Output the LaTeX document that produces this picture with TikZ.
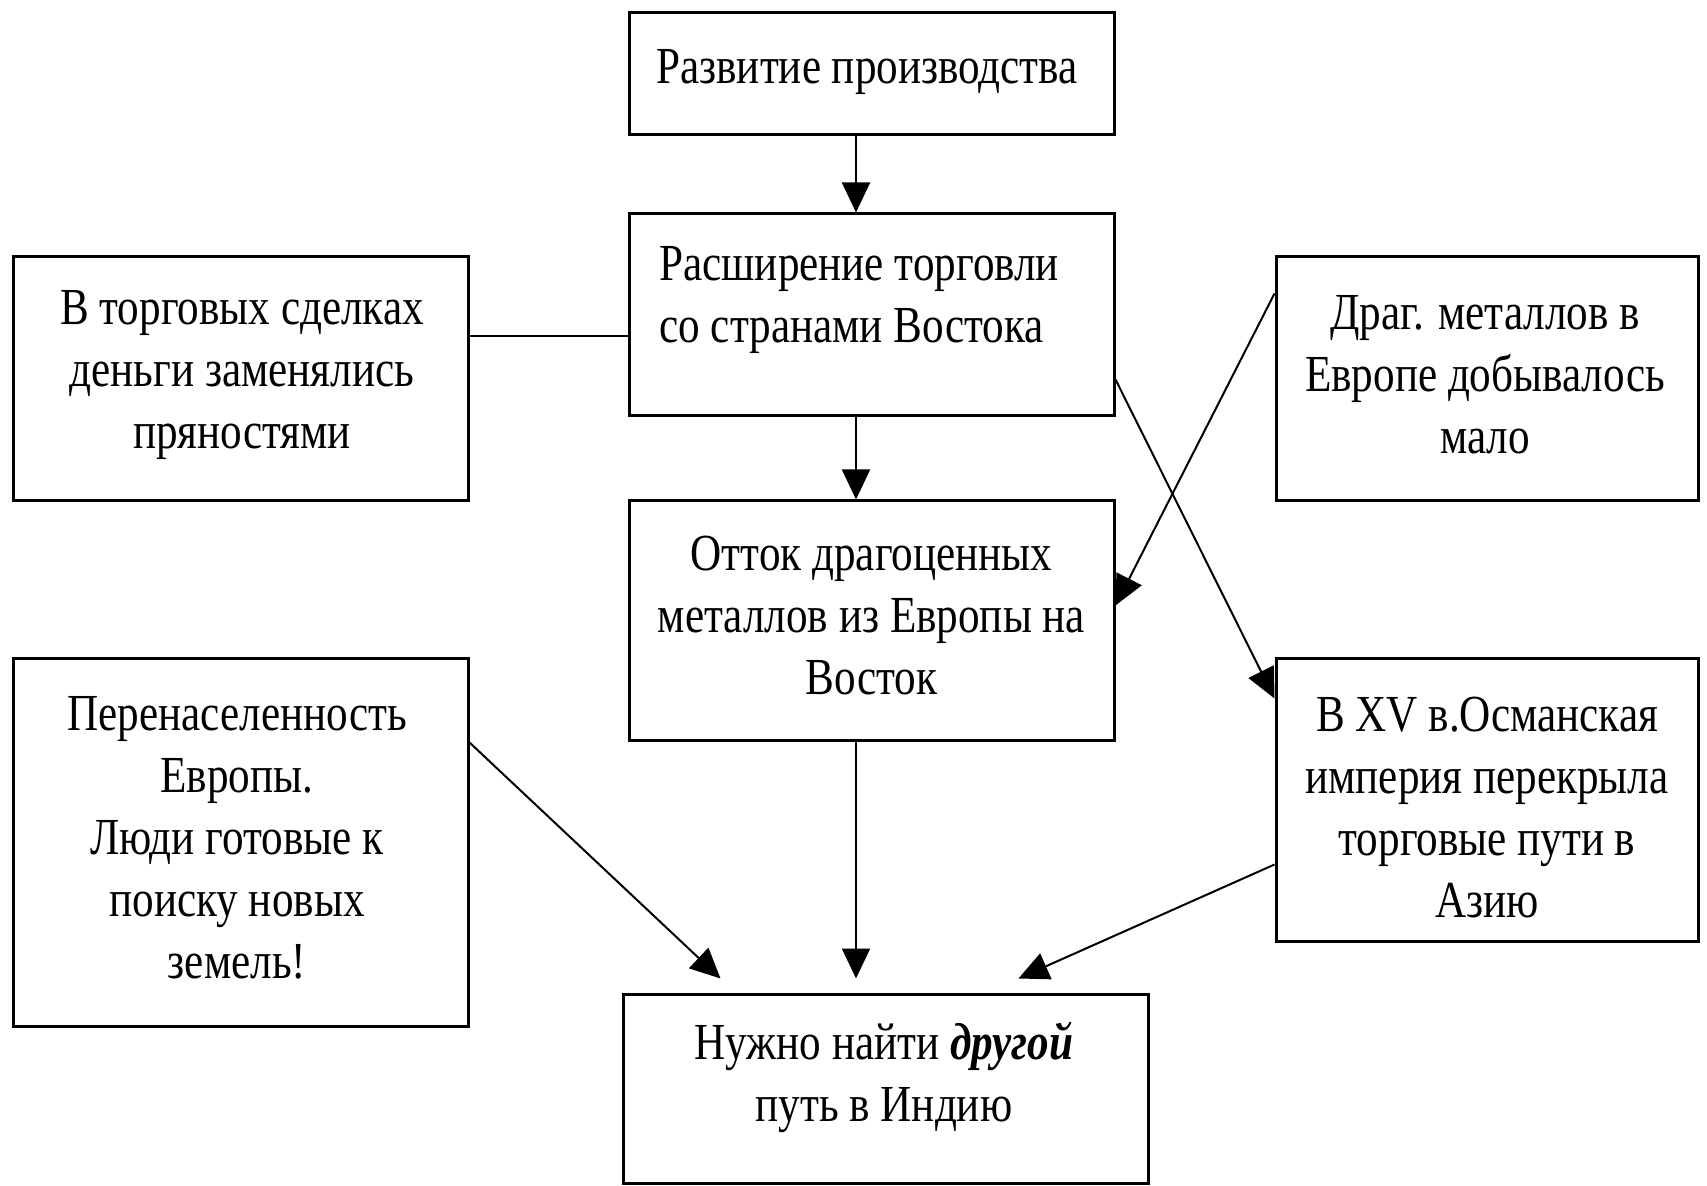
\documentclass[tikz,border=0pt]{standalone}
\usepackage{fontspec}
\setmainfont{Liberation Serif}[FakeStretch=0.83]
\usetikzlibrary{arrows.meta,calc}
\begin{document}
\begin{tikzpicture}[x=0.5pt,y=-0.5pt,
  box/.style={draw,line width=1.5pt,inner sep=0pt},
  txt/.style={font=\fontsize{26}{31}\selectfont,align=center,inner sep=0pt},
  conn/.style={line width=1pt},
  arr/.style={conn,-{Triangle[length=15pt,width=14pt]}}]
\useasboundingbox[fill=white] (0,0) rectangle (1707,1186);
% boxes
\node[box,minimum width=242.5pt,minimum height=61pt]  (b1) at (871.5,74) {};
\node[box,minimum width=242.5pt,minimum height=101pt] (b2) at (871.5,315) {};
\node[box,minimum width=242.5pt,minimum height=119.5pt] (b3) at (871.5,620.5) {};
\node[box,minimum width=227.5pt,minimum height=122pt] (L1) at (240.5,379) {};
\node[box,minimum width=211pt,minimum height=122pt]   (R1) at (1487,379) {};
\node[box,minimum width=227.5pt,minimum height=183.5pt] (L2) at (240.5,842.5) {};
\node[box,minimum width=211pt,minimum height=141pt]   (R2) at (1487,800) {};
\node[box,minimum width=262.5pt,minimum height=94.5pt] (B) at (885.5,1088.5) {};
% texts
\node[txt,anchor=west] (t1) at (656,72) {Развитие производства};
\node[txt,anchor=west,align=left] (t2) at (659,300) {Расширение торговли\\со странами Востока};
\node[txt] (t3) at (871.5,616) {Отток драгоценных\\металлов из Европы на\\Восток};
\node[txt] (tL1) at (242,375) {В торговых сделках\\деньги заменялись\\пряностями};
\node[txt] (tR1) at (1485,375) {Драг. металлов в\\Европе добывалось\\мало};
\node[txt] (tL2) at (237,838) {Перенаселенность\\Европы.\\Люди готовые к\\поиску новых\\земель!};
\node[txt] (tR2) at (1487,808) {В XV в.Османская\\империя перекрыла\\торговые пути в\\Азию};
\node[txt] (tB) at (884,1077) {Нужно найти \textbf{\textit{другой}}\\путь в Индию};
% connectors
\coordinate (ax) at (856,0);
\coordinate (hy) at (0,336);
\coordinate (endL) at ($(B.north west)+(99,-14)$);
\coordinate (endM) at ($(B.north -| ax)+(0,-14)$);
\coordinate (endR) at ($(B.north west)+(397,-14)$);
\draw[arr] (b1.south -| ax) -- (b2.north -| ax);
\draw[arr] (b2.south -| ax) -- (b3.north -| ax);
\draw[arr] (b3.south -| ax) -- (endM);
\draw[conn] (L1.east |- hy) -- (b2.west |- hy);
\draw[arr] ($(b2.north east)+(0,167)$) -- ($(R2.north west)+(0,41)$);
\draw[arr] ($(R1.north west)+(0,38)$) -- ($(b3.north east)+(0,106)$);
\draw[arr] ($(L2.north east)+(0,85)$) -- (endL);
\draw[arr] ($(R2.south west)+(0,-78)$) -- (endR);
\end{tikzpicture}
\end{document}
